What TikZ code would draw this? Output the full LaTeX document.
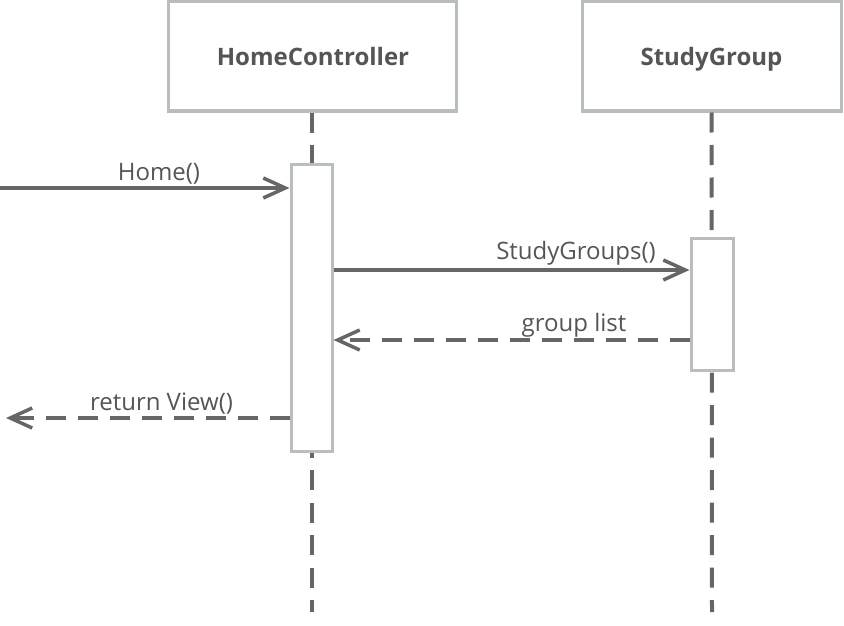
\documentclass[tikz,border=0pt]{standalone}
\usepackage{fontspec}
\setmainfont{Open Sans}
\usetikzlibrary{arrows.meta}
\definecolor{boxgray}{HTML}{B8BDBD}
\definecolor{linegray}{HTML}{666666}
\definecolor{txtgray}{HTML}{555555}
\begin{document}
\begin{tikzpicture}[x=1pt,y=-1pt,
  objbox/.style={draw=boxgray,line width=3pt,fill=white,minimum width=#1,minimum height=109pt,inner sep=0pt,text=txtgray},
  objlbl/.style={font=\fontsize{24}{28}\selectfont\bfseries,text=txtgray,inner sep=0pt,anchor=base},
  actbox/.style={draw=boxgray,line width=3pt,fill=white,inner sep=0pt},
  lifeline/.style={draw=linegray,line width=4pt,dash pattern=on 20pt off 12.5pt},
  msg/.style={draw=linegray,line width=3.5pt,-{Straight Barb[length=22pt,width=20pt]}},
  ret/.style={msg,dash pattern=on 20pt off 12pt},
  lbl/.style={font=\fontsize{24}{28}\selectfont,text=txtgray,inner sep=0pt}]
\useasboundingbox (0,0) rectangle (844,626);
% lifelines
\coordinate (l1end) at (312,612);
\coordinate (l2end) at (712,612);
\node[objbox=288pt] (hc) at (312,56.5) {};
\node[objbox=259pt] (sg) at (711.5,56.5) {};
\node[objlbl] at (313,66) {HomeController};
\node[objlbl] at (711.5,66) {StudyGroup};
\draw[lifeline] (hc.south) -- (l1end);
\draw[lifeline] (sg.south) -- (l2end);
% activations
\node[actbox,minimum width=41pt,minimum height=287pt] (a1) at (311.5,307.5) {};
\node[actbox,minimum width=42pt,minimum height=132pt] (a2) at (712,304) {};
% messages
\coordinate (start) at (0,188);
\coordinate (endret) at (6,418);
\draw[msg] (start) -- (a1.west |- start);
\node[lbl,anchor=base] at (159,180.5) {Home()};
\coordinate (s2) at (333,270);
\draw[msg] (a1.east |- s2) -- (a2.west |- s2);
\node[lbl,anchor=base east] at (656,259) {StudyGroups()};
\coordinate (s3) at (0,340);
\draw[ret] (a2.west |- s3) -- (a1.east |- s3);
\node[lbl,anchor=base] at (574,331) {group list};
\draw[ret] (a1.west |- endret) -- (endret);
\node[lbl,anchor=base] at (161.5,410) {return View()};
\end{tikzpicture}
\end{document}
